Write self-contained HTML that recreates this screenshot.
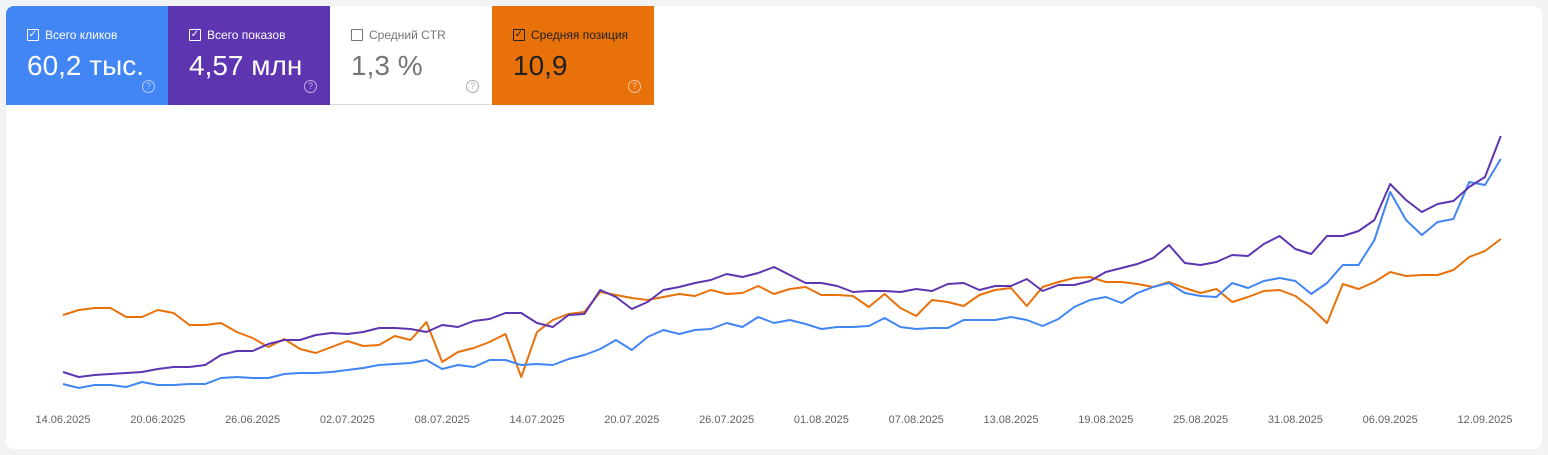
<!DOCTYPE html>
<html><head><meta charset="utf-8"><style>
body{margin:0;width:1548px;height:455px;background:#f1f3f4;font-family:"Liberation Sans",Roboto,sans-serif;overflow:hidden;position:relative}
.card{position:absolute;left:6px;top:6px;width:1536px;height:443px;background:#fff;border-radius:8px;overflow:hidden}
.tile{position:absolute;top:0;width:162px;height:99px;color:#fff;box-sizing:border-box}
.lab{position:absolute;left:21px;top:22px;font-size:12px;display:flex;align-items:center}
.cb{width:10px;height:10px;border:1.5px solid currentColor;border-radius:1px;margin-right:6px;position:relative;font-size:10px;line-height:10px;text-align:center}
.val{position:absolute;left:21px;top:44px;font-size:28px;letter-spacing:0}
.help{position:absolute;left:136px;top:74px;width:11px;height:11px;border:1.2px solid currentColor;border-radius:50%;font-size:9px;line-height:11px;text-align:center;opacity:.6}
</style></head><body>
<div class="card">
<div class="tile" style="left:0;background:#4285f4"><div class="lab"><div class="cb">✓</div>Всего кликов</div><div class="val">60,2 тыс.</div><div class="help">?</div></div>
<div class="tile" style="left:162px;background:#5e35b1"><div class="lab"><div class="cb">✓</div>Всего показов</div><div class="val">4,57 млн</div><div class="help">?</div></div>
<div class="tile" style="left:324px;background:#fff;color:#757575;border-bottom:1px solid #dadce0"><div class="lab"><div class="cb" style="border-color:#757575"></div>Средний CTR</div><div class="val">1,3 %</div><div class="help">?</div></div>
<div class="tile" style="left:486px;background:#e8710a;color:#202124"><div class="lab"><div class="cb">✓</div>Средняя позиция</div><div class="val">10,9</div><div class="help" style="color:#fff">?</div></div>
</div>
<svg id="s" width="1548" height="455" style="position:absolute;left:0;top:0" font-family="Liberation Sans, sans-serif" font-size="11" fill="#5f6368"></svg>
<script>
var B=[384,388,385,385,387,382,385,385,384,384,378,377,378,378,374,373,373,372,370,368,365,364,363,360,369,365,367,360,360,365,364,365,359,355,349,340,350,337,330,334,330,329,323,327,317,323,320,324,329,327,327,326,318,327,329,328,328,320,320,320,317,320,326,319,307,300,297,303,293,287,283,293,296,297,283,288,281,278,281,294,283,265,265,240,192,220,235,222,219,182,185,159];
var P=[372,377,375,374,373,372,369,367,367,365,355,351,351,344,340,340,335,333,334,332,328,328,329,332,325,327,321,319,313,313,323,327,315,314,290,297,309,302,290,287,283,280,274,277,273,267,275,283,283,286,292,291,291,292,289,291,284,283,290,286,286,279,291,285,285,281,272,268,264,258,245,263,265,262,255,256,244,236,249,254,236,236,231,220,184,200,212,204,201,187,177,136];
var O=[315,310,308,308,317,317,310,313,325,325,323,332,338,347,339,349,353,347,341,346,345,336,340,322,362,352,348,342,334,377,332,320,314,312,292,295,298,300,297,294,296,290,294,293,286,294,289,287,295,295,296,307,294,308,316,300,302,306,295,290,288,306,287,282,278,277,282,282,284,287,282,288,293,289,302,297,291,290,296,308,323,284,289,282,272,276,275,275,270,257,251,239];
function pl(a,c){return '<polyline fill="none" stroke="'+c+'" stroke-width="2" stroke-linejoin="round" points="'+a.map(function(y,i){return (63+i*15.8).toFixed(1)+','+y}).join(' ')+'"/>';}
var L=['14.06.2025','20.06.2025','26.06.2025','02.07.2025','08.07.2025','14.07.2025','20.07.2025','26.07.2025','01.08.2025','07.08.2025','13.08.2025','19.08.2025','25.08.2025','31.08.2025','06.09.2025','12.09.2025'];
var h=pl(O,'#e8710a')+pl(B,'#4285f4')+pl(P,'#5e35b1');
L.forEach(function(t,k){h+='<text x="'+(63+k*94.8).toFixed(1)+'" y="423" text-anchor="middle">'+t+'</text>';});
document.getElementById('s').innerHTML=h;
</script>
</body></html>
